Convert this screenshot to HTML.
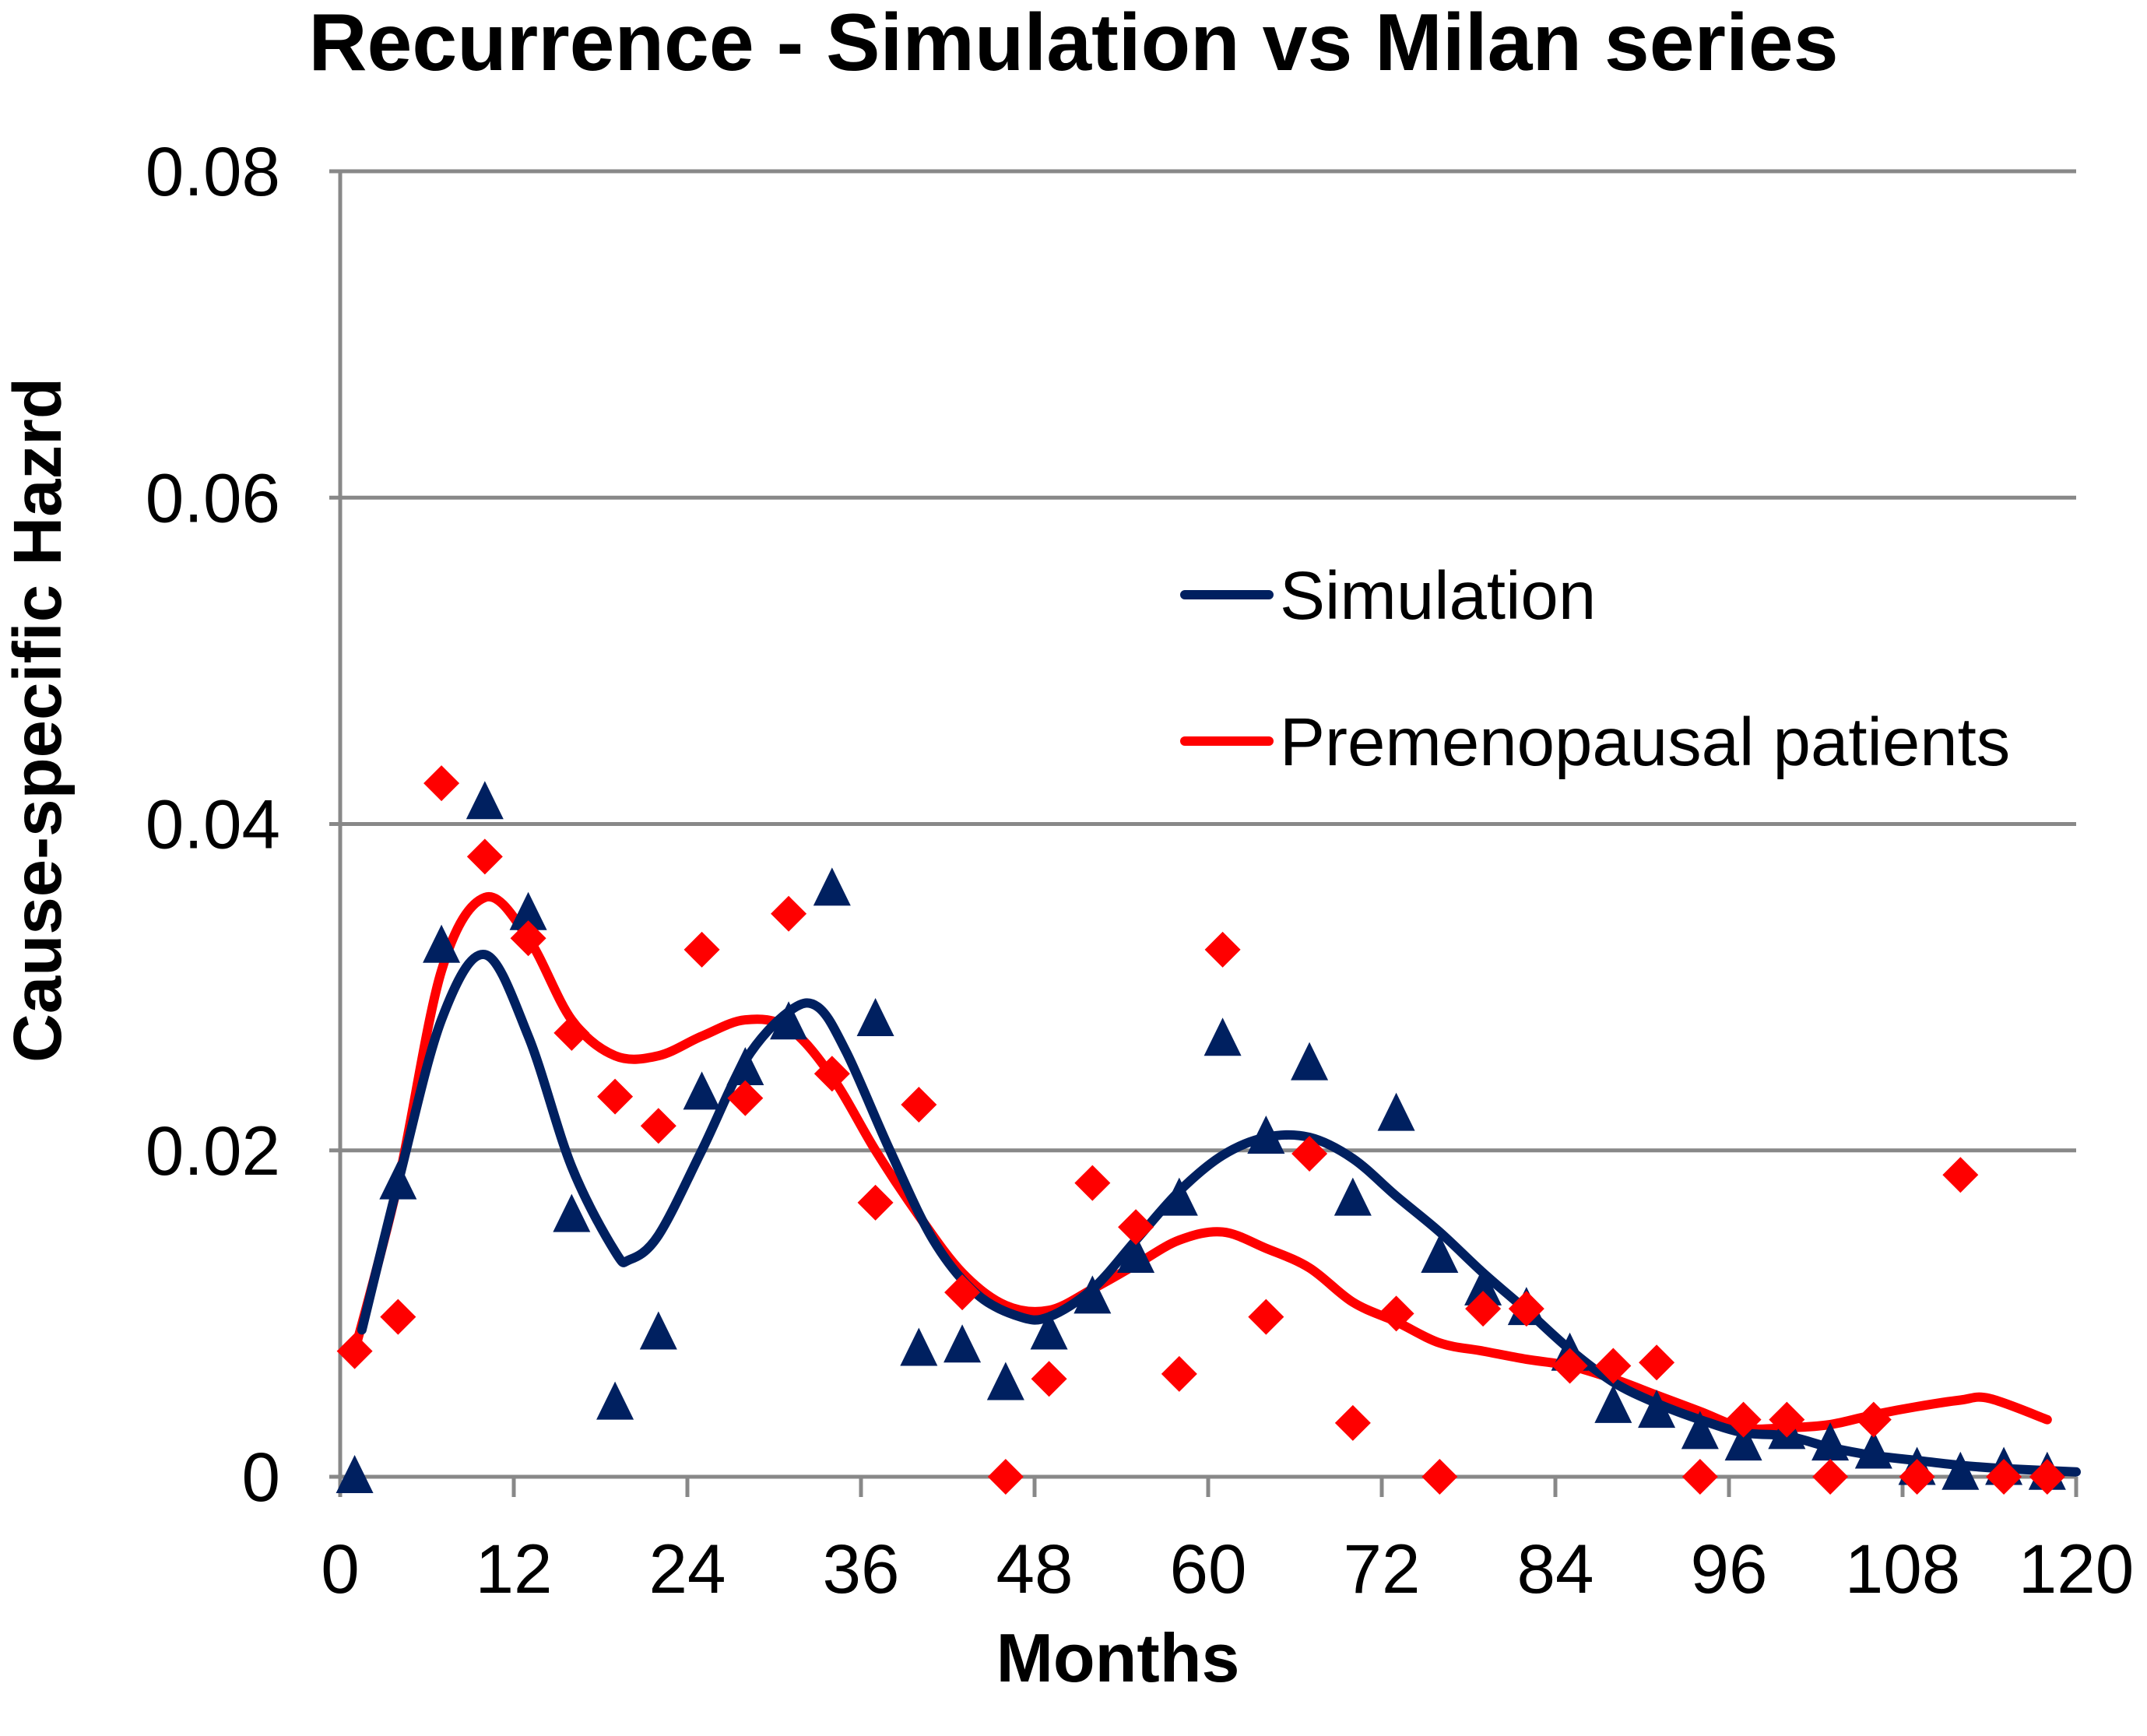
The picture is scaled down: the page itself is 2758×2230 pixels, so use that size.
<!DOCTYPE html>
<html><head><meta charset="utf-8"><style>
html,body{margin:0;padding:0;background:#fff;}
svg{display:block;font-family:"Liberation Sans",Arial,sans-serif;}
</style></head><body>
<svg id="chart" width="2758" height="2230" viewBox="0 0 2758 2230">
<text x="1379" y="90" text-anchor="middle" font-size="104" font-weight="bold">Recurrence - Simulation vs Milan series</text>
<text transform="translate(78,925) rotate(-90)" text-anchor="middle" font-size="87" font-weight="bold">Cause-specific Hazrd</text>
<text x="1436" y="2160" text-anchor="middle" font-size="88" font-weight="bold">Months</text>
<g id="grid"></g><g id="axes"></g><g id="lines"></g><g id="marks"></g>
<g>
<line x1="1522" y1="764" x2="1630" y2="764" stroke="#002060" stroke-width="12" stroke-linecap="round"/>
<text x="1644" y="795" font-size="87">Simulation</text>
<line x1="1522" y1="952" x2="1630" y2="952" stroke="#ff0000" stroke-width="12" stroke-linecap="round"/>
<text x="1644" y="983" font-size="87">Premenopausal patients</text>
</g>
</svg>
<script>
const xTicks=[0,12,24,36,48,60,72,84,96,108,120];
const yTicks=[0,0.02,0.04,0.06,0.08];
const yTickLabels=["0","0.02","0.04","0.06","0.08"];
const markerMonths=[1,4,7,10,13,16,19,22,25,28,31,34,37,40,43,46,49,52,55,58,61,64,67,70,73,76,79,82,85,88,91,94,97,100,103,106,109,112,115,118];
const simPoints=[0,0.018,0.0325,0.0413,0.0345,0.016,0.0045,0.0088,0.0235,0.025,0.0278,0.036,0.028,0.0078,0.008,0.0057,0.0088,0.011,0.0135,0.017,0.0268,0.0208,0.0253,0.017,0.0222,0.0135,0.0115,0.0103,0.0075,0.0043,0.004,0.0027,0.002,0.0027,0.002,0.0015,0.0005,0.0002,0.0005,0.0002];
const milanPoints=[0.0077,0.0098,0.0425,0.038,0.033,0.0272,0.0233,0.0215,0.0323,0.0232,0.0345,0.0247,0.0168,0.0228,0.0113,0,0.006,0.018,0.0153,0.0063,0.0323,0.0098,0.0198,0.0033,0.01,0,0.0103,0.0103,0.0068,0.0068,0.007,0,0.0035,0.0035,0,0.0035,0,0.0185,0,0];
const simCurveX=[1.5,4,7,10,13,16,19,20,22,25,28,31,33,35,38,41,44,47,49,52,55,58,61,64,67,70,73,76,79,82,85,88,91,94,97,100,103,106,109,112,115,120];
const simCurveY=[0.009,0.018,0.028,0.032,0.027,0.019,0.0138,0.0133,0.0148,0.02,0.0255,0.0285,0.0288,0.026,0.02,0.0145,0.0112,0.0098,0.0098,0.0115,0.0145,0.0175,0.0197,0.0208,0.0208,0.0195,0.0172,0.015,0.0125,0.0102,0.0078,0.0058,0.0045,0.0035,0.0027,0.0025,0.0018,0.0013,0.001,0.0007,0.0005,0.0003];
const redCurveX=[1,4,7,10,13,16,19,22,25,28,31,34,37,40,43,46,49,52,55,58,61,64,67,70,73,76,79,82,85,88,91,94,97,100,103,106,109,112,114,118];
const redCurveY=[0.0077,0.018,0.031,0.0355,0.033,0.028,0.0258,0.0258,0.027,0.028,0.0275,0.0245,0.02,0.016,0.0125,0.0105,0.0102,0.0115,0.013,0.0145,0.015,0.014,0.0128,0.0107,0.0095,0.0082,0.0077,0.0072,0.0068,0.006,0.005,0.004,0.003,0.003,0.0032,0.0038,0.0043,0.0047,0.0048,0.0035];

const NS="http://www.w3.org/2000/svg";
const X0=437,X1=2667,Y0=1897,Y1=220;
const sx=m=>X0+(m/120)*(X1-X0);
const sy=v=>Y0-(v/0.08)*(Y0-Y1);
function mk(tag,attrs,parent){const e=document.createElementNS(NS,tag);for(const k in attrs)e.setAttribute(k,attrs[k]);parent.appendChild(e);return e;}
const grid=document.getElementById('grid'),axes=document.getElementById('axes'),lines=document.getElementById('lines'),marks=document.getElementById('marks');
yTicks.forEach((v,i)=>{
  const l=mk('line',{x1:X0-14,x2:X1,y1:sy(v),y2:sy(v),stroke:'#888',"stroke-width":5},grid);
  
  
  const t=mk('text',{x:360,y:sy(v)+31,"text-anchor":"end","font-size":89},axes);
  t.textContent=yTickLabels[i];
  
  
});
const ya=mk('line',{x1:X0,x2:X0,y1:Y1,y2:Y0+26,stroke:'#888',"stroke-width":5},axes);


xTicks.forEach(m=>{
  const l=mk('line',{x1:sx(m),x2:sx(m),y1:Y0,y2:Y0+26,stroke:'#888',"stroke-width":5},axes);
  
  
  const t=mk('text',{x:sx(m),y:2046,"text-anchor":"middle","font-size":89},axes);
  t.textContent=String(m);
  
  
});
function smooth(xs,ys){
  const p=xs.map((x,i)=>[sx(x),sy(ys[i])]);
  let d=`M${p[0][0]},${p[0][1]}`;
  for(let i=0;i<p.length-1;i++){
    const a=p[i-1]||p[i],b=p[i],c=p[i+1],e=p[i+2]||c;
    d+=` C${b[0]+(c[0]-a[0])/6},${b[1]+(c[1]-a[1])/6} ${c[0]-(e[0]-b[0])/6},${c[1]-(e[1]-b[1])/6} ${c[0]},${c[1]}`;
  }
  return d;
}
const rl=mk('path',{d:smooth(redCurveX,redCurveY),fill:'none',stroke:'#ff0000',"stroke-width":12,"stroke-linecap":"round","stroke-linejoin":"round"},lines);


const bl=mk('path',{d:smooth(simCurveX,simCurveY),fill:'none',stroke:'#002060',"stroke-width":12,"stroke-linecap":"round","stroke-linejoin":"round"},lines);


markerMonths.forEach((m,i)=>{
  const x=sx(m),y=sy(simPoints[i]);
  const t=mk('polygon',{points:`${x},${y-28} ${x+24},${y+21} ${x-24},${y+21}`,fill:'#002060'},marks);
  
  
});
markerMonths.forEach((m,i)=>{
  const x=sx(m),y=sy(milanPoints[i]);
  const d=mk('polygon',{points:`${x},${y-23} ${x+23},${y} ${x},${y+23} ${x-23},${y}`,fill:'#ff0000'},marks);
  
  
});
</script>
</body></html>
